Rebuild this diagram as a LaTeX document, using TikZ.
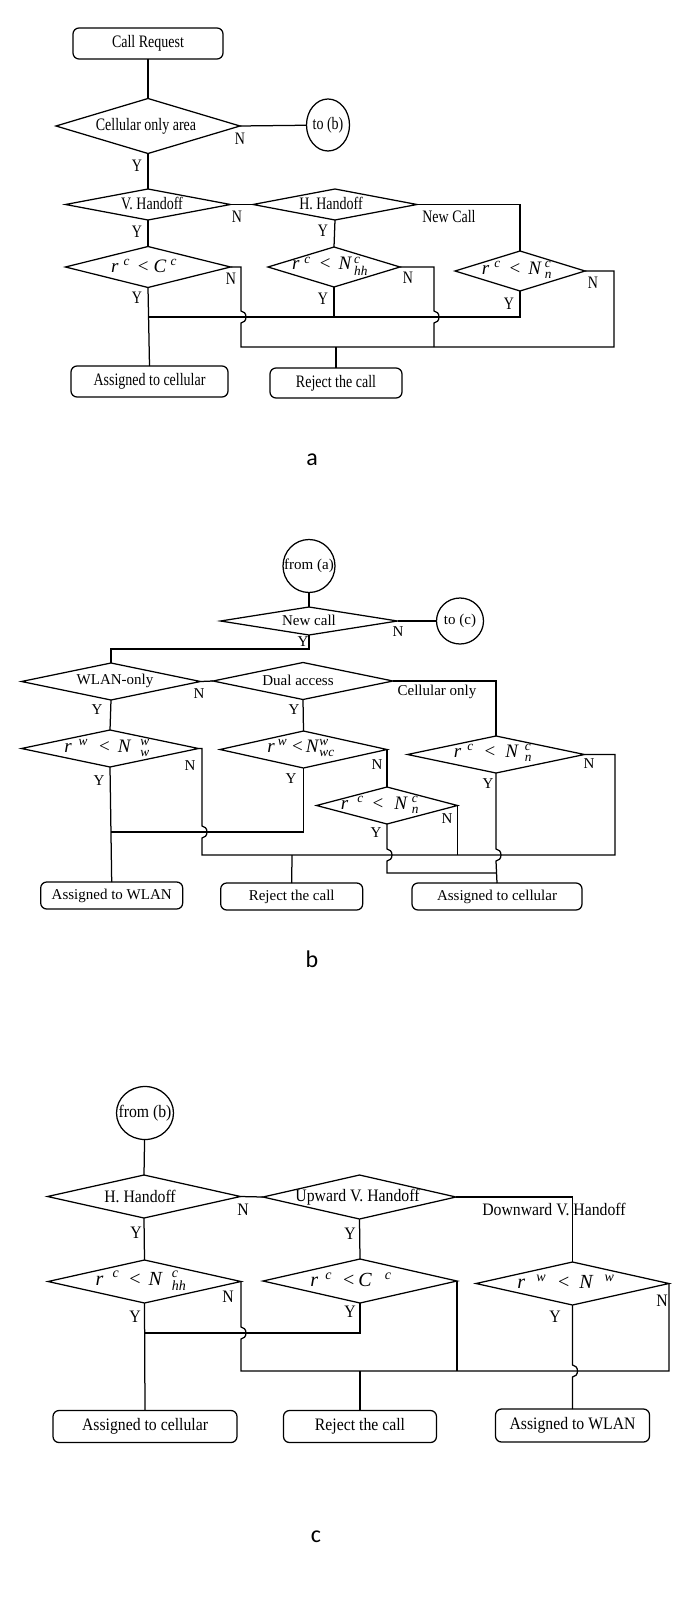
\documentclass[tikz,border=0pt]{standalone}
\usepackage{fontspec}
\usepackage{amsmath}
\setmainfont{Liberation Serif}
\newfontfamily\fAfam[FakeStretch=0.8]{Liberation Serif}
\newfontfamily\fBfam{Liberation Serif}
\newfontfamily\fCfam[FakeStretch=0.9]{Liberation Serif}
\newfontfamily\lblfam{Carlito}
\usetikzlibrary{shapes.geometric}
\newcommand\up[1]{$^{\text{\itshape #1}}$}
\newcommand\ud[2]{$^{\text{\itshape #1}}_{\text{\itshape #2}}$}
\newcommand\iv[1]{\textit{#1}}
\newcommand\hs[1]{\hspace{#1pt}}
\begin{document}
\begin{tikzpicture}[x=1pt,y=-1pt,line width=1.25pt,
  dia/.style 2 args={draw,shape=diamond,inner sep=0pt,outer sep=0pt,minimum width=#1pt,minimum height=#2pt},
  box/.style 2 args={draw,rounded corners=6pt,inner sep=0pt,outer sep=0pt,minimum width=#1pt,minimum height=#2pt},
  circ/.style 2 args={draw,ellipse,inner sep=0pt,outer sep=0pt,minimum width=#1pt,minimum height=#2pt},
  fa/.style={inner sep=0pt,font={\fontsize{17.5}{20}\fAfam}},
  fb/.style={inner sep=0pt,font={\fontsize{15}{18}\fBfam}},
  fc/.style={inner sep=0pt,font={\fontsize{17.5}{20}\fCfam}},
  ma/.style={inner sep=0pt,font={\fontsize{19}{22}\fBfam}},
  mc/.style={inner sep=0pt,font={\fontsize{20}{23}\fBfam}},
  part/.style={inner sep=0pt,font={\fontsize{24}{28}\lblfam}}]
\path[use as bounding box] (0,0) rectangle (685,1597);

% ================= part a =================
\node[box={150}{31},fa] (cr) at (148,43.5) {Call Request};
\node[dia={184}{55}] (coa) at (148,126) {};
\node[fa] (tcoa) at (146,126) {Cellular only area};
\node[circ={43}{52}] (tob) at (328,125) {};
\node[fa] (ttob) at (328,125) {to (b)};
\node[dia={165}{31}] (vh) at (148,204.5) {};
\node[fa] (tvh) at (152,203) {V. Handoff};
\node[dia={164}{31}] (hh) at (335,204.5) {};
\node[fa] (thh) at (331,203) {H. Handoff};
\node[dia={165}{41}] (a1) at (148,267) {};
\node[ma] (ta1) at (144,266) {\iv{r}\hs{5}\up{c}\hs{8}<\hs{5}\iv{C}\hs{4}\up{c}};
\node[dia={132}{40}] (a2) at (334,267) {};
\node[ma] (ta2) at (330,266) {\iv{r}\hs{5}\up{c}\hs{9}<\hs{8}\iv{N}\hs{2}\ud{c}{hh}};
\node[dia={130}{40}] (a3) at (520,271) {};
\node[ma] (ta3) at (517,270) {\iv{r}\hs{5}\up{c}\hs{9}<\hs{8}\iv{N}\hs{3}\ud{c}{n}};
\node[box={157}{31},fa] (aac) at (149.5,381.5) {Assigned to cellular};
\node[box={132}{30},fa] (arej) at (336,383) {Reject the call};

\node[fa] (la1) at (240,139) {N};
\node[fa] (la2) at (137,166) {Y};
\node[fa] (la3) at (237,217) {N};
\node[fa] (la4) at (449,217) {New Call};
\node[fa] (la5) at (137,232) {Y};
\node[fa] (la6) at (323,231) {Y};
\node[fa] (la7) at (231,279) {N};
\node[fa] (la8) at (408,278) {N};
\node[fa] (la9) at (593,283) {N};
\node[fa] (la10) at (137,298) {Y};
\node[fa] (la11) at (323,299) {Y};
\node[fa] (la12) at (509,304) {Y};

\coordinate (ya) at (148,317);
\coordinate (ra) at (336,347);
\draw (cr) -- (coa.north);
\draw (coa.east) -- (tob);
\draw (coa.south) -- (vh.north);
\draw (vh.east) -- (hh.west);
\draw (hh.east) -| (a3.north);
\draw (vh.south) -- (a1.north);
\draw (hh.south) -- (a2.north);
\draw (a1.south) -- (aac.north);
\draw (a2.south) |- (ya);
\draw (a3.south) |- (a2.south |- ya);
\draw (a1.east) -- (241,267) -- (241,311) arc[start angle=-90,end angle=90,x radius=5,y radius=6] -- (241,347) -- (614,347) |- (a3.east);
\draw (a2.east) -- (434,267) -- (434,311) arc[start angle=-90,end angle=90,x radius=5,y radius=6] -- (434,347);
\draw (arej.north) -- (ra);
\node[part] (pa) at (312,460) {a};

% ================= part b =================
\node[circ={52}{53}] (froma) at (309,566) {};
\node[fb] (tfroma) at (309,566) {from (a)};
\node[dia={177}{28}] (nc) at (309,621) {};
\node[fb] (tnc) at (309,620) {New call};
\node[circ={47}{46}] (toc) at (460,621) {};
\node[fb] (ttoc) at (460,621) {to (c)};
\node[dia={179}{37}] (wo) at (111,681.5) {};
\node[fb] (two) at (115,681) {WLAN-only};
\node[dia={180}{37}] (da) at (303,681) {};
\node[fb] (tda) at (298,680) {Dual access};
\node[dia={177}{37}] (b1) at (110,748.5) {};
\node[ma] (tb1) at (107,748) {\iv{r}\hs{7}\up{w}\hs{11}<\hs{8}\iv{N}\hs{9}\ud{w}{w}};
\node[dia={167}{37}] (b2) at (303.5,749.5) {};
\node[ma] (tb2) at (301,748) {\iv{r}\hs{3}\up{w}\hs{5}<\hs{3}\iv{N}\ud{w}{wc}};
\node[dia={177}{37}] (b3) at (496,754.5) {};
\node[ma] (tb3) at (493,753) {\iv{r}\hs{6}\up{c}\hs{11}<\hs{10}\iv{N}\hs{6}\ud{c}{n}};
\node[dia={141}{37}] (b4) at (387,805.5) {};
\node[ma] (tb4) at (380,805) {\iv{r}\hs{9}\up{c}\hs{9}<\hs{11}\iv{N}\hs{4}\ud{c}{n}};
\node[box={142}{27},fb] (abw) at (111.7,895.5) {Assigned to WLAN};
\node[box={142}{27},fb] (brej) at (291.7,896.5) {Reject the call};
\node[box={170}{27},fb] (abc) at (497,896.5) {Assigned to cellular};

\node[fb] (lb1) at (398,632) {N};
\node[fb] (lb2) at (303,642) {Y};
\node[fb] (lb3) at (199,694) {N};
\node[fb] (lb4) at (437,692) {Cellular only};
\node[fb] (lb5) at (97,710) {Y};
\node[fb] (lb6) at (294,710) {Y};
\node[fb] (lb7) at (190,766) {N};
\node[fb] (lb8) at (377,765) {N};
\node[fb] (lb9) at (589,764) {N};
\node[fb] (lb10) at (99,781) {Y};
\node[fb] (lb11) at (291,779) {Y};
\node[fb] (lb12) at (488,784) {Y};
\node[fb] (lb13) at (447,819) {N};
\node[fb] (lb14) at (376,833) {Y};

\coordinate (yb) at (111,832);
\coordinate (rb) at (292,855);
\coordinate (sb) at (309,649);
\coordinate (kb) at (496,873);
\draw (froma) -- (nc.north);
\draw (nc.east) -- (toc);
\draw (nc.south) -- (sb) -| (wo.north);
\draw (wo.east) -- (da.west);
\draw (da.east) -| (b3.north);
\draw (wo.south) -- (b1.north);
\draw (da.south) -- (b2.north);
\draw (b1.south) -- (abw.north);
\draw (b2.south) |- (yb);
\draw (b1.east) -- (202,748.5) -- (202,826) arc[start angle=-90,end angle=90,x radius=5,y radius=6] -- (202,855) -- (615,855) |- (b3.east);
\draw (b2.east) -- (b4.north);
\draw (b4.east) -- (457.5,855);
\draw (b4.south) -- (387,849) arc[start angle=-90,end angle=90,x radius=5,y radius=6] -- (387,873) -- (kb);
\draw (b3.south) -- (496,849) arc[start angle=-90,end angle=90,x radius=5,y radius=6] -- (abc.north);
\draw (brej.north) -- (rb);
\node[part] (pb) at (312,959) {b};

% ================= part c =================
\node[circ={57}{53}] (fromb) at (145,1113) {};
\node[fc] (tfromb) at (145,1113) {from (b)};
\node[dia={193}{43}] (ch) at (144,1196.5) {};
\node[fc] (tch) at (140,1196) {H. Handoff};
\node[dia={193}{44}] (uvh) at (359.5,1197) {};
\node[fc] (tuvh) at (357.5,1197) {Upward V. Handoff};
\node[dia={193}{43}] (c1) at (144.5,1281.5) {};
\node[mc] (tc1) at (141,1281) {\iv{r}\hs{9}\up{c}\hs{10}<\hs{8}\iv{N}\hs{9}\ud{c}{hh}};
\node[dia={194}{44}] (c2) at (360,1281) {};
\node[mc] (tc2) at (351,1280) {\iv{r}\hs{7}\up{c}\hs{11}<\hs{4}\iv{C}\hs{13}\up{c}};
\node[dia={193}{43}] (c3) at (572.5,1283.5) {};
\node[mc] (tc3) at (566,1282) {\iv{r}\hs{11}\up{w}\hs{12}<\hs{10}\iv{N}\hs{11}\up{w}};
\node[box={184}{32},fc] (cac) at (145,1426.5) {Assigned to cellular};
\node[box={153}{32},fc] (crej) at (360,1426.5) {Reject the call};
\node[box={154}{33},fc] (cwl) at (572.5,1425.5) {Assigned to WLAN};

\node[fc] (lc1) at (243,1210) {N};
\node[fc] (lc2) at (554,1209) {Downward V. Handoff};
\node[fc] (lc3) at (136,1233) {Y};
\node[fc] (lc4) at (350,1234) {Y};
\node[fc] (lc5) at (228,1297) {N};
\node[fc] (lc6) at (662,1301) {N};
\node[fc] (lc7) at (135,1317) {Y};
\node[fc] (lc8) at (350,1312) {Y};
\node[fc] (lc9) at (555,1317) {Y};

\coordinate (yc) at (144,1333);
\coordinate (rc) at (360,1371);
\draw (fromb) -- (ch.north);
\draw (ch.east) -- (uvh.west);
\draw (uvh.east) -| (c3.north);
\draw (ch.south) -- (c1.north);
\draw (uvh.south) -- (c2.north);
\draw (c1.south) -- (cac.north);
\draw (c2.south) |- (yc);
\draw (c1.east) -- (241,1327) arc[start angle=-90,end angle=90,x radius=5,y radius=6] -- (241,1371) -- (c3.east |- rc) -- (c3.east);
\draw (c2.east) -- (c2.east |- rc);
\draw (c3.south) -- (572.5,1365) arc[start angle=-90,end angle=90,x radius=5,y radius=6] -- (cwl.north);
\draw (crej.north) -- (rc);
\node[part] (pc) at (316,1537) {c};
\end{tikzpicture}
\end{document}
